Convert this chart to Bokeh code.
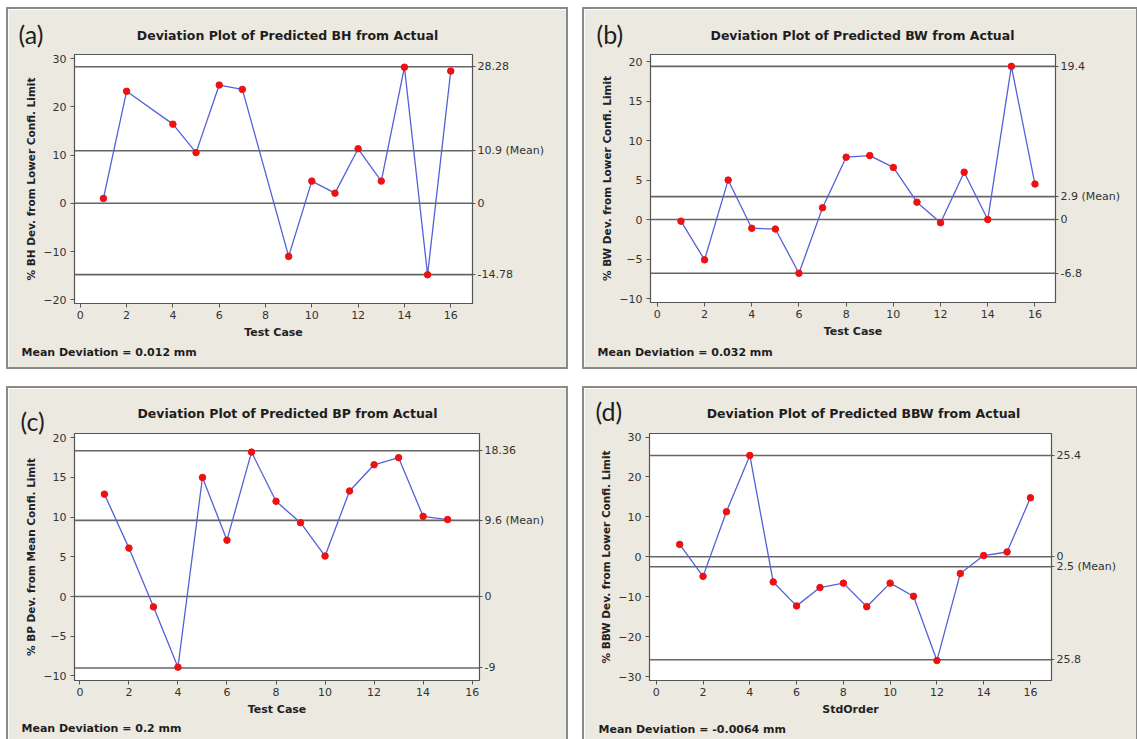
from bokeh.plotting import figure
from bokeh.models import Span, Label, LinearAxis, FixedTicker, Range1d, SingleIntervalTicker
from bokeh.layouts import column, row
from bokeh.embed import file_html
from bokeh.resources import INLINE

# ---------------- data ----------------
a_case = [1, 2, 4, 5, 6, 7, 9, 10, 11, 12, 13, 14, 15, 16]
a_dev = [1.0, 23.2, 16.4, 10.5, 24.5, 23.6, -11.0, 4.6, 2.1, 11.3, 4.6, 28.2, -14.8, 27.4]
a_refs = [28.28, 10.9, 0.0, -14.78]
a_ref_labels = ["28.28", "10.9 (Mean)", "0", "-14.78"]

b_case = [1, 2, 3, 4, 5, 6, 7, 8, 9, 10, 11, 12, 13, 14, 15, 16]
b_dev = [-0.2, -5.1, 5.0, -1.1, -1.2, -6.8, 1.5, 7.9, 8.1, 6.6, 2.2, -0.4, 6.0, 0.0, 19.4, 4.5]
b_refs = [19.4, 2.9, 0.0, -6.8]
b_ref_labels = ["19.4", "2.9 (Mean)", "0", "-6.8"]

c_case = [1, 2, 3, 4, 5, 6, 7, 8, 9, 10, 11, 12, 13, 14, 15]
c_dev = [12.9, 6.1, -1.3, -8.9, 15.0, 7.1, 18.2, 12.0, 9.3, 5.1, 13.3, 16.6, 17.5, 10.1, 9.7]
c_refs = [18.36, 9.6, 0.0, -9.0]
c_ref_labels = ["18.36", "9.6 (Mean)", "0", "-9"]

d_case = [1, 2, 3, 4, 5, 6, 7, 8, 9, 10, 11, 12, 13, 14, 15, 16]
d_dev = [3.1, -4.9, 11.3, 25.4, -6.3, -12.3, -7.7, -6.6, -12.5, -6.6, -9.9, -26.0, -4.2, 0.3, 1.2, 14.8]
d_refs = [25.4, 0.0, -2.5, -25.8]
d_ref_labels = ["25.4", "0", "2.5 (Mean)", "25.8"]

# ---------------- style ----------------
BG = "#ECE9E1"
AX = "#555555"
TXT = "#333333"
FONT = "DejaVu Sans"
LINE_BLUE = "#5461D6"
RED = "#EE1111"
REF = "#666666"


def panel(letter, title, ylabel, xlabel, xs, ys, refs, ref_labels, mean_text,
          xr, yr, ytick, w, h, bl, bt, br, bb, pos):
    p = figure(width=w, height=h, output_backend="svg", toolbar_location=None,
               title=None, x_range=Range1d(*xr), y_range=Range1d(*yr),
               min_border_left=bl, min_border_top=bt, min_border_right=br, min_border_bottom=bb,
               background_fill_color="white", border_fill_color=BG,
               outline_line_color=AX, outline_line_width=1.2, frame_align=False,
               styles={"box-shadow": "0 0 0 2px #8A8A8A"})
    p.xgrid.visible = False
    p.ygrid.visible = False

    for ax in (p.xaxis[0], p.yaxis[0]):
        ax.axis_line_color = AX
        ax.major_tick_line_color = AX
        ax.major_tick_in = 0
        ax.major_tick_out = 4
        ax.minor_tick_line_color = None
        ax.major_label_text_font = FONT
        ax.major_label_text_font_size = "11px"
        ax.major_label_text_color = TXT
        ax.axis_label_text_font = FONT
        ax.axis_label_text_font_style = "bold"
        ax.axis_label_text_color = "#222222"
    p.xaxis[0].ticker = SingleIntervalTicker(interval=2)
    p.yaxis[0].ticker = SingleIntervalTicker(interval=ytick)
    p.xaxis[0].axis_label = xlabel
    p.xaxis[0].axis_label_text_font_size = "11px"
    p.xaxis[0].major_label_standoff = 3
    p.xaxis[0].axis_label_standoff = 4
    p.yaxis[0].axis_label = ylabel
    p.yaxis[0].axis_label_text_font_size = "10.5px"
    p.yaxis[0].major_label_standoff = 4
    p.yaxis[0].axis_label_standoff = 3

    right = LinearAxis(ticker=FixedTicker(ticks=refs),
                       major_label_overrides={r: l for r, l in zip(refs, ref_labels)})
    right.axis_line_color = None
    right.major_tick_line_color = AX
    right.major_tick_in = 0
    right.major_tick_out = 3
    right.minor_tick_line_color = None
    right.major_label_standoff = 2
    right.major_label_text_font = FONT
    right.major_label_text_font_size = "11px"
    right.major_label_text_color = TXT
    p.add_layout(right, "right")

    for r in refs:
        p.add_layout(Span(location=r, dimension="width", line_color=REF,
                          line_width=1.6, level="underlay"))

    p.line(xs, ys, line_color=LINE_BLUE, line_width=1.3)
    p.scatter(xs, ys, size=6.5, fill_color=RED, line_color=RED)

    lx, ly, tx, ty, mx, my = pos
    p.add_layout(Label(x=lx, y=ly, x_units="canvas", y_units="canvas", text=letter,
                       text_font="Lato", text_font_size="25px", text_color="#1E1E1E",
                       text_baseline="middle", text_align="left"), "above")
    p.add_layout(Label(x=tx, y=ty, x_units="canvas", y_units="canvas", text=title,
                       text_font=FONT, text_font_style="bold", text_font_size="12.5px",
                       text_color="#1E1E1E", text_baseline="middle", text_align="center"), "above")
    p.add_layout(Label(x=mx, y=my, x_units="canvas", y_units="canvas", text=mean_text,
                       text_font=FONT, text_font_style="bold", text_font_size="11px",
                       text_color="#1E1E1E", text_baseline="middle", text_align="left"), "below")
    return p


pa = panel("(a)", "Deviation Plot of Predicted BH from Actual",
           "% BH Dev. from Lower Confi. Limit", "Test Case",
           a_case, a_dev, a_refs, a_ref_labels, "Mean Deviation = 0.012 mm",
           (-0.25, 16.94), (-20.76, 30.83), 10, 558, 358, 66, 45, 94, 64,
           (10, 24, 279, 26, 13, 343))
pb = panel("(b)", "Deviation Plot of Predicted BW from Actual",
           "% BW Dev. from Lower Confi. Limit", "Test Case",
           b_case, b_dev, b_refs, b_ref_labels, "Mean Deviation = 0.032 mm",
           (-0.29, 16.87), (-10.5, 20.9), 5, 552, 358, 66, 44, 81, 65,
           (12, 24, 278, 26, 13, 343))
pc = panel("(c)", "Deviation Plot of Predicted BP from Actual",
           "% BP Dev. from Mean Confi. Limit", "Test Case",
           c_case, c_dev, c_refs, c_ref_labels, "Mean Deviation = 0.2 mm",
           (-0.22, 16.3), (-10.58, 20.54), 5, 558, 351, 66, 44, 87, 59,
           (12, 32, 279, 25, 13, 340))
pd_ = panel("(d)", "Deviation Plot of Predicted BBW from Actual",
            "% BBW Dev. from Lower Confi. Limit", "StdOrder",
            d_case, d_dev, d_refs, d_ref_labels, "Mean Deviation = -0.0064 mm",
            (-0.29, 16.9), (-31.0, 30.9), 10, 552, 351, 65, 45, 85, 59,
            (11, 22, 279, 25, 14, 341))

layout = column(row(pa, pb, spacing=18), row(pc, pd_, spacing=18), spacing=21,
                margin=(9, 0, 0, 8))

with open("out.html", "w") as f:
    f.write(file_html(layout, INLINE))
